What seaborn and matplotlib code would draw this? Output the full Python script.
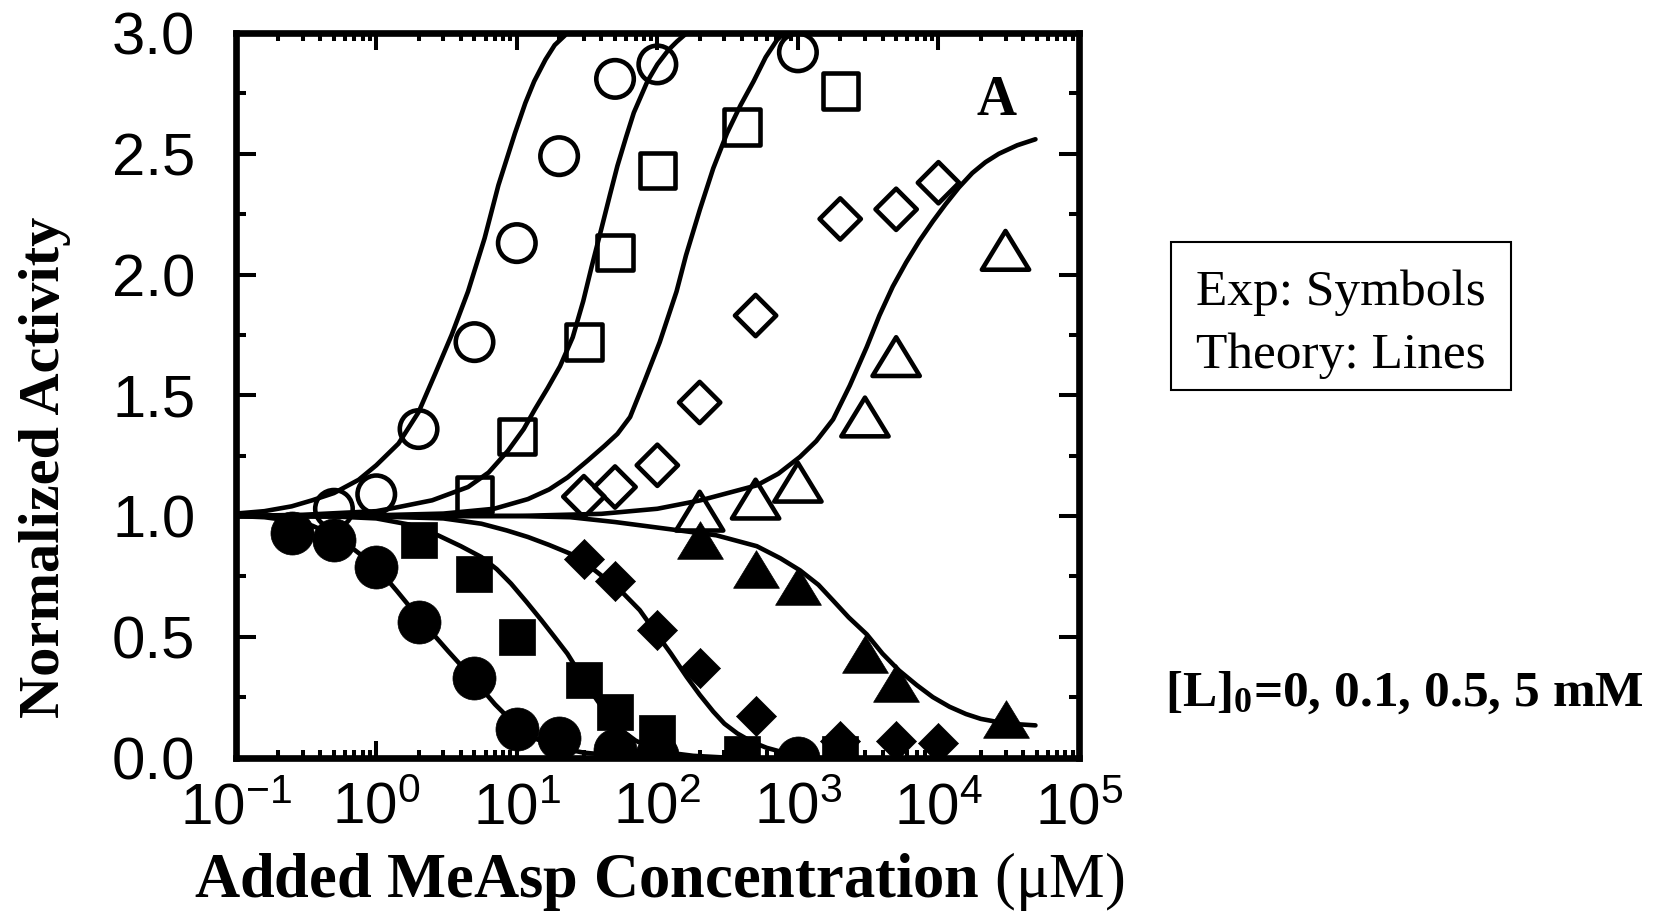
import numpy as np
import matplotlib
matplotlib.use("Agg")
import matplotlib.pyplot as plt
import seaborn as sns
from matplotlib.path import Path
from matplotlib.patches import Rectangle
from matplotlib.ticker import (FixedLocator, FixedFormatter, LogLocator,
                               MultipleLocator, NullFormatter)

# ---------------- measured activities (symbols) ----------------
# [L]0 = 0 : circles
up_circ_x = [0.5, 1, 2, 5, 10, 20, 50, 100, 1000]
up_circ_y = [1.03, 1.09, 1.36, 1.72, 2.13, 2.49, 2.81, 2.87, 2.92]
down_circ_x = [0.25, 0.5, 1, 2, 5, 10, 20, 50, 100, 1000]
down_circ_y = [0.93, 0.90, 0.79, 0.56, 0.33, 0.12, 0.08, 0.03, 0.01, 0.0]

# [L]0 = 0.1 mM : squares
up_sq_x = [5, 10, 30, 50, 100, 400, 2000]
up_sq_y = [1.09, 1.33, 1.72, 2.09, 2.43, 2.61, 2.76]
down_sq_x = [2, 5, 10, 30, 50, 100, 400, 2000]
down_sq_y = [0.90, 0.76, 0.50, 0.32, 0.19, 0.10, 0.015, 0.015]

# [L]0 = 0.5 mM : diamonds
up_dia_x = [30, 50, 100, 200, 500, 2000, 5000, 10000]
up_dia_y = [1.08, 1.12, 1.21, 1.47, 1.83, 2.23, 2.27, 2.38]
down_dia_x = [30, 50, 100, 200, 500, 2000, 5000, 10000]
down_dia_y = [0.82, 0.73, 0.53, 0.37, 0.17, 0.07, 0.07, 0.06]

# [L]0 = 5 mM : triangles
up_tri_x = [200, 500, 1000, 3000, 5000, 30000]
up_tri_y = [1.02, 1.07, 1.14, 1.41, 1.66, 2.10]
down_tri_x = [200, 500, 1000, 3000, 5000, 30000]
down_tri_y = [0.90, 0.78, 0.71, 0.43, 0.31, 0.16]

# ---------------- model curves (lines) ----------------
th_up0_x = [0.1, 0.16, 0.25, 0.35, 0.5, 0.75, 1.0, 1.44, 2.0, 2.63, 3.44, 4.5,
            5.9, 7.4, 9.7, 11.5, 13.3, 16, 18.6, 22]
th_up0_y = [1.01, 1.02, 1.04, 1.065, 1.095, 1.15, 1.21, 1.30, 1.43, 1.59, 1.75, 1.93,
            2.15, 2.37, 2.585, 2.71, 2.80, 2.89, 2.95, 2.99]

th_up1_x = [0.1, 0.3, 1.0, 1.44, 2.5, 4.5, 6.3, 8.65, 11.2, 13.4, 16.6, 20.3, 25,
            29.7, 34, 40, 46, 52, 60, 68, 85, 100, 120, 138, 162]
th_up1_y = [1.0, 1.005, 1.02, 1.037, 1.065, 1.12, 1.18, 1.27, 1.36, 1.44, 1.53, 1.62, 1.74,
            1.89, 2.03, 2.19, 2.33, 2.45, 2.57, 2.67, 2.80, 2.87, 2.93, 2.965, 3.0]

th_up2_x = [0.1, 1, 3, 6.9, 12, 17, 23, 32, 42, 52, 64, 80, 104, 137, 160, 201,
            250, 313, 390, 484, 590, 708, 830]
th_up2_y = [1.0, 1.003, 1.01, 1.03, 1.07, 1.11, 1.16, 1.23, 1.29, 1.34, 1.41, 1.55,
            1.72, 1.93, 2.08, 2.27, 2.44, 2.585, 2.70, 2.80, 2.90, 2.97, 3.01]

th_up3_x = [0.1, 10, 40, 100, 203, 510, 725, 1035, 1350, 1780, 2340, 3090, 3800,
            4730, 5890, 7330, 9120, 11200, 13960, 17400, 21600, 26900, 36300, 49000]
th_up3_y = [1.0, 1.0, 1.009, 1.03, 1.065, 1.127, 1.175, 1.245, 1.31, 1.40, 1.54, 1.70,
            1.83, 1.95, 2.05, 2.14, 2.22, 2.29, 2.36, 2.42, 2.465, 2.50, 2.535, 2.56]

th_dn0_x = [0.1, 0.16, 0.25, 0.35, 0.5, 0.7, 1, 1.4, 2, 3.25, 5, 7, 10, 14, 20, 30,
            50, 100]
th_dn0_y = [1.0, 0.995, 0.98, 0.96, 0.92, 0.86, 0.79, 0.69, 0.58, 0.44, 0.32, 0.22,
            0.13, 0.075, 0.04, 0.02, 0.008, 0.0]

th_dn1_x = [0.1, 0.5, 1, 1.7, 2.75, 4, 5.6, 7.2, 9.1, 11.7, 14.9, 18.5, 22.9, 30, 37,
            45, 55, 70, 90, 120, 180, 300]
th_dn1_y = [1.0, 0.998, 0.99, 0.965, 0.92, 0.875, 0.83, 0.78, 0.72, 0.645, 0.57, 0.50,
            0.43, 0.32, 0.24, 0.17, 0.115, 0.07, 0.04, 0.02, 0.007, 0.0]

th_dn2_x = [0.1, 1, 3, 5.6, 8.5, 12, 17, 24, 35, 55, 75, 95, 125, 162, 200, 250, 300,
            370, 470, 600, 800, 1000]
th_dn2_y = [1.0, 0.998, 0.99, 0.968, 0.94, 0.913, 0.88, 0.844, 0.78, 0.69, 0.61, 0.526,
            0.43, 0.333, 0.26, 0.19, 0.14, 0.10, 0.065, 0.04, 0.02, 0.01]

th_dn3_x = [0.1, 10, 24, 50, 124, 263, 510, 750, 1035, 1400, 1780, 2300, 3090, 4000,
            5250, 7000, 9120, 12000, 15700, 20000, 26900, 36000, 49000]
th_dn3_y = [1.0, 1.0, 0.995, 0.975, 0.945, 0.92, 0.875, 0.825, 0.775, 0.715, 0.65, 0.58,
            0.51, 0.43, 0.36, 0.30, 0.25, 0.21, 0.18, 0.16, 0.146, 0.138, 0.133]

# ---------------- axis ticks ----------------
xtick_vals = [1e-1, 1e0, 1e1, 1e2, 1e3, 1e4, 1e5]
xtick_labels = [r"$\mathregular{10^{-1}}$", r"$\mathregular{10^{0}}$",
                r"$\mathregular{10^{1}}$", r"$\mathregular{10^{2}}$",
                r"$\mathregular{10^{3}}$", r"$\mathregular{10^{4}}$",
                r"$\mathregular{10^{5}}$"]
ytick_vals = [0.0, 0.5, 1.0, 1.5, 2.0, 2.5, 3.0]
ytick_labels = ["0.0", "0.5", "1.0", "1.5", "2.0", "2.5", "3.0"]

# ---------------- style ----------------
sns.set_theme(style="ticks")
plt.rcParams.update({
    "font.family": ["Liberation Sans", "DejaVu Sans"],
    "mathtext.default": "regular",
    "mathtext.fontset": "custom",
    "mathtext.rm": "Liberation Serif",
    "mathtext.bf": "Liberation Serif:bold",
    "axes.linewidth": 4.8,
    "axes.edgecolor": "black",
    "text.color": "black",
    "axes.labelcolor": "black",
    "xtick.color": "black",
    "ytick.color": "black",
})

W, H = 1665, 913
fig = plt.figure(figsize=(W / 100, H / 100), dpi=100)
ax_l, ax_r, ax_t, ax_b = 235.7, 1079.0, 33.0, 757.5
ax = fig.add_axes([ax_l / W, 1 - ax_b / H, (ax_r - ax_l) / W, (ax_b - ax_t) / H])
ax.set_facecolor("white")

# model curves
line_kw = dict(color="black", linewidth=3.3, sort=False, estimator=None, legend=False)
for cx, cy in [(th_up0_x, th_up0_y), (th_up1_x, th_up1_y), (th_up2_x, th_up2_y),
               (th_up3_x, th_up3_y), (th_dn0_x, th_dn0_y), (th_dn1_x, th_dn1_y),
               (th_dn2_x, th_dn2_y), (th_dn3_x, th_dn3_y)]:
    sns.lineplot(x=cx, y=cy, ax=ax, **line_kw)
for ln in ax.lines:
    ln.set_solid_joinstyle("round")
    ln.set_solid_capstyle("round")

# wide, slightly squat triangle marker
tri = Path([(0, 0.82), (-1, -0.82), (1, -0.82), (0, 0.82)],
           [Path.MOVETO, Path.LINETO, Path.LINETO, Path.CLOSEPOLY])

open_kw = dict(facecolor="none", edgecolor="black", linewidth=3.3, zorder=4, legend=False)
fill_kw = dict(color="black", edgecolor="black", linewidth=0.5, zorder=4, legend=False)

sns.scatterplot(x=up_circ_x, y=up_circ_y, marker="o", s=27 ** 2, ax=ax, **open_kw)
sns.scatterplot(x=up_sq_x, y=up_sq_y, marker="s", s=25.5 ** 2, ax=ax, **open_kw)
sns.scatterplot(x=up_dia_x, y=up_dia_y, marker="D", s=21 ** 2, ax=ax, **open_kw)
sns.scatterplot(x=up_tri_x, y=up_tri_y, marker=tri, s=34 ** 2, ax=ax, **open_kw)

sns.scatterplot(x=down_circ_x, y=down_circ_y, marker="o", s=31 ** 2, ax=ax, **fill_kw)
sns.scatterplot(x=down_sq_x, y=down_sq_y, marker="s", s=26.4 ** 2, ax=ax, **fill_kw)
sns.scatterplot(x=down_dia_x, y=down_dia_y, marker="D", s=20.4 ** 2, ax=ax, **fill_kw)
sns.scatterplot(x=down_tri_x, y=down_tri_y, marker=tri, s=33 ** 2, ax=ax, **fill_kw)

# axes, scales and ticks
ax.set_xscale("log")
ax.set_xlim(0.1, 1e5)
ax.set_ylim(0, 3)
ax.xaxis.set_major_locator(FixedLocator(xtick_vals))
ax.xaxis.set_major_formatter(FixedFormatter(xtick_labels))
ax.xaxis.set_minor_locator(LogLocator(base=10, subs=np.arange(2, 10), numticks=20))
ax.xaxis.set_minor_formatter(NullFormatter())
ax.yaxis.set_major_locator(FixedLocator(ytick_vals))
ax.yaxis.set_major_formatter(FixedFormatter(ytick_labels))
ax.yaxis.set_minor_locator(MultipleLocator(0.25))

ax.tick_params(which="both", direction="in", top=True, right=True,
               width=2.9, color="black", labelcolor="black")
ax.tick_params(axis="x", which="major", length=12.2, labelsize=42, pad=17)
ax.tick_params(axis="x", which="minor", length=5.8)
ax.tick_params(axis="y", which="major", length=14.4, labelsize=43, pad=29)
ax.tick_params(axis="y", which="minor", length=7.2)
for sp in ax.spines.values():
    sp.set_visible(True)
    sp.set_linewidth(4.8)
    sp.set_color("black")

# axis titles
ax.set_xlabel(r"Added MeAsp Concentration $\mathrm{(\mu M)}$",
              fontsize=45, fontweight="bold", family="Liberation Serif")
ax.xaxis.label.set_verticalalignment("baseline")
ax.xaxis.set_label_coords((659 - ax_l) / (ax_r - ax_l), -(897 - ax_b) / (ax_b - ax_t))

ax.set_ylabel("Normalized Activity", fontsize=42, fontweight="bold",
              family="Liberation Serif")
ax.yaxis.label.set_horizontalalignment("center")
ax.yaxis.label.set_verticalalignment("center")
ax.yaxis.set_label_coords((45 - ax_l) / (ax_r - ax_l), (ax_b - 467) / (ax_b - ax_t))

# panel letter
ax.text((997 - ax_l) / (ax_r - ax_l), (ax_b - 115) / (ax_b - ax_t), "A",
        transform=ax.transAxes, ha="center", va="baseline",
        fontsize=40, fontweight="bold", family="Liberation Serif")

# key box
fig.add_artist(Rectangle((1171 / W, 1 - 390 / H), (1511 - 1171) / W, (390 - 242) / H,
                         transform=fig.transFigure, facecolor="white",
                         edgecolor="black", linewidth=1.5))
fig.text(1341 / W, 1 - 305 / H, "Exp: Symbols", ha="center", va="baseline",
         fontsize=37, family="Liberation Serif")
fig.text(1341 / W, 1 - 368 / H, "Theory: Lines", ha="center", va="baseline",
         fontsize=37, family="Liberation Serif")

# ligand concentrations
fig.text(1404 / W, 1 - 706 / H, r"[L]$_{0}$=0, 0.1, 0.5, 5 mM", ha="center",
         va="baseline", fontsize=37, fontweight="bold", family="Liberation Serif")

fig.savefig("out.png", dpi=100, facecolor="white")
